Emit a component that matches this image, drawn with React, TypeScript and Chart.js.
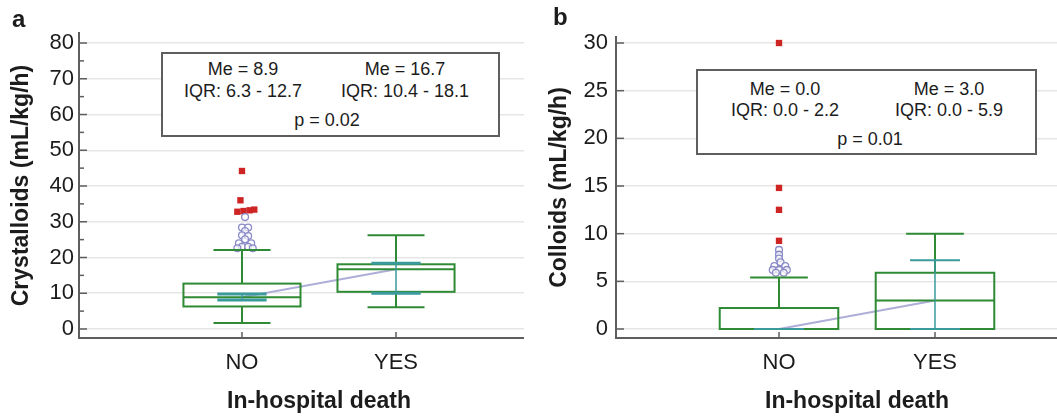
import React, { useEffect, useRef } from "react";
import { Chart, registerables } from "chart.js";

Chart.register(...registerables);

const FONT = "'Liberation Sans', Arial, Helvetica, sans-serif";

// ---------- shared categories ----------
const categories = ["NO", "YES"];
const categoryPos = [0, 1];

// ---------- panel a : Crystalloids ----------
const crystTicks = [0, 10, 20, 30, 40, 50, 60, 70, 80];
const crystMinorTicks = [5, 15, 25, 35, 45, 55, 65, 75];
const crystWhiskerLow = [1.7, 6.1];
const crystQ1 = [6.3, 10.4];
const crystMedian = [8.9, 16.7];
const crystQ3 = [12.7, 18.1];
const crystWhiskerHigh = [22.1, 26.2];
const crystCiLow = [8.1, 10.0];
const crystCiHigh = [9.8, 18.4];
const crystOutsideX = [0.02, 0.0, 0.04, 0.02, 0.0, 0.04, 0.02, -0.02, 0.06, 0.0, 0.04, -0.03, 0.07];
const crystOutsideY = [31.3, 28.4, 28.4, 27.4, 26.2, 26.0, 25.1, 24.0, 24.0, 23.0, 23.0, 22.6, 22.6];
const crystFarX = [0.0, -0.01, -0.03, 0.01, 0.05, 0.08];
const crystFarY = [44.2, 36.0, 32.8, 33.0, 33.2, 33.4];

// ---------- panel b : Colloids ----------
const colloidTicks = [0, 5, 10, 15, 20, 25, 30];
const colloidMinorTicks: number[] = [];
const colloidWhiskerLow = [0, 0];
const colloidQ1 = [0, 0];
const colloidMedian = [0, 3.0];
const colloidQ3 = [2.2, 5.9];
const colloidWhiskerHigh = [5.4, 10.0];
const colloidCiLow = [0, 0];
const colloidCiHigh = [0, 7.2];
const colloidOutsideX = [0.0, 0.0, 0.0, 0.01, -0.03, 0.04, -0.04, 0.0, 0.05, -0.02, 0.03];
const colloidOutsideY = [8.3, 7.8, 7.4, 7.0, 6.6, 6.6, 6.2, 6.2, 6.2, 5.9, 5.9];
const colloidFarX = [0, 0, 0, 0];
const colloidFarY = [30.0, 14.8, 12.5, 9.25];

// ---------- styles ----------
const BOX_GREEN = "#2f8a34";
const CI_TEAL = "#3a9a9c";
const MEDIAN_LINE = "#aeaed8";
const FAR_RED = "#cf2424";
const OUT_BLUE = "#8a8ac8";
const AXIS = "#5e5e5e";
const GRID = "#e6e6e6";
const TEXT = "#1c1c1c";

const seg = (ctx: CanvasRenderingContext2D, x1: number, y1: number, x2: number, y2: number) => {
  ctx.beginPath();
  ctx.moveTo(x1, y1);
  ctx.lineTo(x2, y2);
  ctx.stroke();
};

const boxPlugin = {
  id: "boxes",
  afterDatasetsDraw(chart: any, _a: any, o: any) {
    const { ctx, scales } = chart;
    const xs = scales.x;
    const ys = scales.y;
    const X = (v: number) => xs.getPixelForValue(v);
    const Y = (v: number) => ys.getPixelForValue(v);
    ctx.save();
    ctx.lineCap = "butt";
    for (let i = 0; i < o.pos.length; i++) {
      const c = X(o.pos[i]);
      const bh = X(o.pos[i] + o.boxHalf) - c;
      const chw = X(o.pos[i] + o.capHalf) - c;
      const cih = X(o.pos[i] + o.ciHalf) - c;
      ctx.strokeStyle = BOX_GREEN;
      ctx.lineWidth = 2;
      seg(ctx, c, Y(o.q3[i]), c, Y(o.wh[i]));
      seg(ctx, c, Y(o.q1[i]), c, Y(o.wl[i]));
      seg(ctx, c - chw, Y(o.wh[i]), c + chw, Y(o.wh[i]));
      seg(ctx, c - chw, Y(o.wl[i]), c + chw, Y(o.wl[i]));
      ctx.strokeRect(c - bh, Y(o.q3[i]), 2 * bh, Y(o.q1[i]) - Y(o.q3[i]));
      seg(ctx, c - bh, Y(o.med[i]), c + bh, Y(o.med[i]));
      ctx.strokeStyle = CI_TEAL;
      ctx.lineWidth = 1.5;
      seg(ctx, c, Y(o.cl[i]), c, Y(o.ch[i]));
      ctx.lineWidth = o.ciCapWidth;
      seg(ctx, c - cih, Y(o.cl[i]), c + cih, Y(o.cl[i]));
      seg(ctx, c - cih, Y(o.ch[i]), c + cih, Y(o.ch[i]));
    }
    ctx.restore();
  },
};

const innerTicksPlugin = {
  id: "innerTicks",
  afterDraw(chart: any, _a: any, o: any) {
    const { ctx, chartArea, scales } = chart;
    const xs = scales.x;
    const ys = scales.y;
    ctx.save();
    ctx.strokeStyle = AXIS;
    ctx.lineWidth = 1.5;
    o.major.forEach((v: number) => {
      const py = ys.getPixelForValue(v);
      seg(ctx, chartArea.left, py, chartArea.left + 8, py);
    });
    o.minor.forEach((v: number) => {
      const py = ys.getPixelForValue(v);
      seg(ctx, chartArea.left, py, chartArea.left + 5, py);
    });
    categoryPos.forEach((v) => {
      const px = xs.getPixelForValue(v);
      seg(ctx, px, chartArea.bottom, px, chartArea.bottom - 6);
    });
    ctx.restore();
  },
};

type PanelCfg = {
  title: string;
  ticks: number[];
  minor: number[];
  wl: number[];
  q1: number[];
  med: number[];
  q3: number[];
  wh: number[];
  cl: number[];
  ch: number[];
  outX: number[];
  outY: number[];
  farX: number[];
  farY: number[];
  yMin: number;
  yMax: number;
  xMin: number;
  xMax: number;
  canvasW: number;
  padTop: number;
  padRight: number;
  yWidth: number;
  xHeight: number;
  yTickPad: number;
  yTitlePad: number;
  ciCapWidth: number;
};

function Panel({ cfg }: { cfg: PanelCfg }) {
  const ref = useRef<HTMLCanvasElement>(null);
  useEffect(() => {
    if (!ref.current) return;
    const chart = new Chart(ref.current, {
      type: "scatter",
      data: {
        datasets: [
          {
            type: "line",
            data: categoryPos.map((p, i) => ({ x: p, y: cfg.med[i] })),
            borderColor: MEDIAN_LINE,
            borderWidth: 2,
            pointRadius: 0,
            showLine: true,
          } as any,
          {
            data: cfg.outX.map((dx, i) => ({ x: categoryPos[0] + dx, y: cfg.outY[i] })),
            pointStyle: "circle",
            pointRadius: 3.4,
            backgroundColor: "rgba(255,255,255,0.7)",
            borderColor: OUT_BLUE,
            borderWidth: 1.3,
          },
          {
            data: cfg.farX.map((dx, i) => ({ x: categoryPos[0] + dx, y: cfg.farY[i] })),
            pointStyle: "rect",
            pointRadius: 4.5,
            backgroundColor: FAR_RED,
            borderWidth: 0,
          },
        ],
      },
      options: {
        animation: false,
        responsive: false,
        maintainAspectRatio: false,
        layout: { padding: { left: 0, top: cfg.padTop, right: cfg.padRight, bottom: 0 } },
        plugins: {
          legend: { display: false },
          tooltip: { enabled: false },
          boxes: {
            pos: categoryPos,
            wl: cfg.wl,
            q1: cfg.q1,
            med: cfg.med,
            q3: cfg.q3,
            wh: cfg.wh,
            cl: cfg.cl,
            ch: cfg.ch,
            boxHalf: 0.38,
            capHalf: 0.185,
            ciHalf: 0.16,
            ciCapWidth: cfg.ciCapWidth,
          },
          innerTicks: { major: cfg.ticks, minor: cfg.minor },
        } as any,
        scales: {
          x: {
            type: "linear",
            min: cfg.xMin,
            max: cfg.xMax,
            afterFit: (s: any) => {
              s.height = cfg.xHeight;
            },
            afterBuildTicks: (s: any) => {
              s.ticks = categoryPos.map((v) => ({ value: v }));
            },
            ticks: {
              callback: (_v: any, i: number) => categories[i],
              font: { size: 22, family: FONT },
              color: TEXT,
              padding: 12,
              maxRotation: 0,
            },
            grid: { display: false, drawTicks: false },
            border: { display: true, color: AXIS, width: 2 },
            title: {
              display: true,
              text: "In-hospital death",
              font: { size: 23, weight: "bold", family: FONT },
              color: TEXT,
              padding: { top: 0, bottom: 3 },
            },
          },
          y: {
            type: "linear",
            min: cfg.yMin,
            max: cfg.yMax,
            afterFit: (s: any) => {
              s.width = cfg.yWidth;
            },
            afterBuildTicks: (s: any) => {
              s.ticks = cfg.ticks.map((v) => ({ value: v }));
            },
            ticks: {
              callback: (v: any) => String(v),
              font: { size: 22, family: FONT },
              color: TEXT,
              padding: cfg.yTickPad,
            },
            grid: { color: GRID, lineWidth: 1.5, drawTicks: false },
            border: { display: true, color: AXIS, width: 2 },
            title: {
              display: true,
              text: cfg.title,
              font: { size: 23, weight: "bold", family: FONT },
              color: TEXT,
              padding: { top: cfg.yTitlePad, bottom: 0 },
            },
          },
        },
      } as any,
      plugins: [boxPlugin, innerTicksPlugin],
    });
    return () => chart.destroy();
  }, [cfg]);
  return (
    <canvas
      ref={ref}
      width={cfg.canvasW}
      height={418}
      style={{ width: cfg.canvasW, height: 418, display: "block" }}
    />
  );
}

const panelA: PanelCfg = {
  title: "Crystalloids (mL/kg/h)",
  ticks: crystTicks,
  minor: crystMinorTicks,
  wl: crystWhiskerLow,
  q1: crystQ1,
  med: crystMedian,
  q3: crystQ3,
  wh: crystWhiskerHigh,
  cl: crystCiLow,
  ch: crystCiHigh,
  outX: crystOutsideX,
  outY: crystOutsideY,
  farX: crystFarX,
  farY: crystFarY,
  yMin: -2.52,
  yMax: 82.8,
  xMin: -1.058,
  xMax: 2.058,
  canvasW: 565,
  padTop: 33,
  padRight: 6,
  yWidth: 79,
  xHeight: 80,
  yTickPad: 5,
  yTitlePad: 8,
  ciCapWidth: 3,
};

const panelB: PanelCfg = {
  title: "Colloids (mL/kg/h)",
  ticks: colloidTicks,
  minor: colloidMinorTicks,
  wl: colloidWhiskerLow,
  q1: colloidQ1,
  med: colloidMedian,
  q3: colloidQ3,
  wh: colloidWhiskerHigh,
  cl: colloidCiLow,
  ch: colloidCiHigh,
  outX: colloidOutsideX,
  outY: colloidOutsideY,
  farX: colloidFarX,
  farY: colloidFarY,
  yMin: -0.944,
  yMax: 30.63,
  xMin: -1.045,
  xMax: 2.045,
  canvasW: 574,
  padTop: 37,
  padRight: 6,
  yWidth: 86,
  xHeight: 80,
  yTickPad: 8,
  yTitlePad: 16,
  ciCapWidth: 2,
};

const textStyle = (cx: number, cy: number): React.CSSProperties => ({
  position: "absolute",
  left: cx,
  top: cy,
  transform: "translate(-50%, -50%)",
  whiteSpace: "nowrap",
  fontSize: 18,
  lineHeight: "18px",
  color: TEXT,
  fontFamily: FONT,
});

const boxStyle = (l: number, t: number, w: number, h: number): React.CSSProperties => ({
  position: "absolute",
  left: l,
  top: t,
  width: w,
  height: h,
  boxSizing: "border-box",
  border: "2px solid #5e5e5e",
  background: "#fff",
});

const letterStyle = (l: number, t: number): React.CSSProperties => ({
  position: "absolute",
  left: l,
  top: t,
  fontSize: 24,
  lineHeight: "24px",
  fontWeight: "bold",
  color: TEXT,
  fontFamily: FONT,
});

export default function App() {
  return (
    <div
      style={{
        position: "fixed",
        left: 0,
        top: 0,
        width: 1057,
        height: 418,
        background: "#fff",
        overflow: "hidden",
      }}
    >
      <div style={{ position: "absolute", left: 0, top: 0, width: 524, height: 418, overflow: "hidden" }}>
        <Panel cfg={panelA} />
      </div>
      <div style={{ position: "absolute", left: 530, top: 0, width: 527, height: 418, overflow: "hidden" }}>
        <Panel cfg={panelB} />
      </div>

      <div style={letterStyle(12, 7)}>a</div>
      <div style={letterStyle(553, 5)}>b</div>

      <div style={boxStyle(161, 52, 339, 85)} />
      <div style={textStyle(243, 68.5)}>Me = 8.9</div>
      <div style={textStyle(243, 90.5)}>IQR: 6.3 - 12.7</div>
      <div style={textStyle(405, 68.5)}>Me = 16.7</div>
      <div style={textStyle(405, 90.5)}>IQR: 10.4 - 18.1</div>
      <div style={textStyle(327, 120)}>p = 0.02</div>

      <div style={boxStyle(696, 69, 341, 86)} />
      <div style={textStyle(785, 88.5)}>Me = 0.0</div>
      <div style={textStyle(785, 110)}>IQR: 0.0 - 2.2</div>
      <div style={textStyle(949, 88.5)}>Me = 3.0</div>
      <div style={textStyle(949, 110)}>IQR: 0.0 - 5.9</div>
      <div style={textStyle(870, 138.5)}>p = 0.01</div>
    </div>
  );
}
